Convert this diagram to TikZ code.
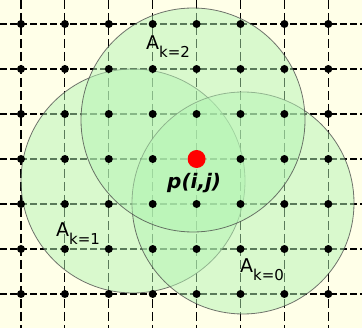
\documentclass[tikz,border=0pt]{standalone}
\usepackage{fontspec}
\setmainfont{DejaVu Sans}
\definecolor{cream}{RGB}{255,255,232}
\definecolor{circfill}{RGB}{180,245,180}
\definecolor{circline}{RGB}{70,70,70}
\tikzset{
  vline/.style={line width=1.1pt, dash pattern=on 9pt off 4pt, black},
  hline/.style={line width=1.1pt, dash pattern=on 7pt off 3pt, black},
  gdot/.style={circle, fill=black, inner sep=0pt, minimum size=8pt},
  area/.style={fill=circfill, fill opacity=0.5, draw=circline, draw opacity=0.75, line width=0.8pt},
  lab/.style={anchor=base west, inner sep=0pt, text=black},
}
\newcommand{\labA}[1]{{\fontsize{19}{21}\selectfont A}\raisebox{-8pt}{\fontsize{15}{17}\selectfont #1}}
\begin{document}
\begin{tikzpicture}[x=1pt,y=-1pt]
\useasboundingbox (0,0) rectangle (362,328);
\fill[cream] (0,0) rectangle (362,328);
% grid lines
\foreach \i in {0,...,7} {
  \coordinate (vt\i) at ({21+43.9*\i},0);
  \coordinate (vb\i) at ({21+43.9*\i},328);
  \draw[vline] (vt\i) -- (vb\i);
}
\foreach \j in {0,...,6} {
  \coordinate (hl\j) at (0,{24+45*\j});
  \coordinate (hr\j) at (362,{24+45*\j});
  \draw[hline] (hl\j) -- (hr\j);
}
% circles
\draw[area] (133,181) circle (112);
\draw[area] (243,203) circle (111);
\draw[area] (193,120) circle (112);
% dots
\foreach \i in {0,...,7} {
  \foreach \j in {0,...,6} {
    \node[gdot] (d-\i-\j) at ({21+43.9*\i},{24+45*\j}) {};
  }
}
\node[circle, fill=red, inner sep=0pt, minimum size=18pt] (p) at (d-4-3) {};
% labels
\node[lab] (lk2) at (146,50) {\labA{k=2}};
\node[lab] (lk1) at (56,237) {\labA{k=1}};
\node[lab] (lk0) at (240,273) {\labA{k=0}};
\node[lab] (plab) at (167,189) {\fontsize{20}{22}\selectfont\bfseries\itshape p(i,j)};
\end{tikzpicture}
\end{document}
